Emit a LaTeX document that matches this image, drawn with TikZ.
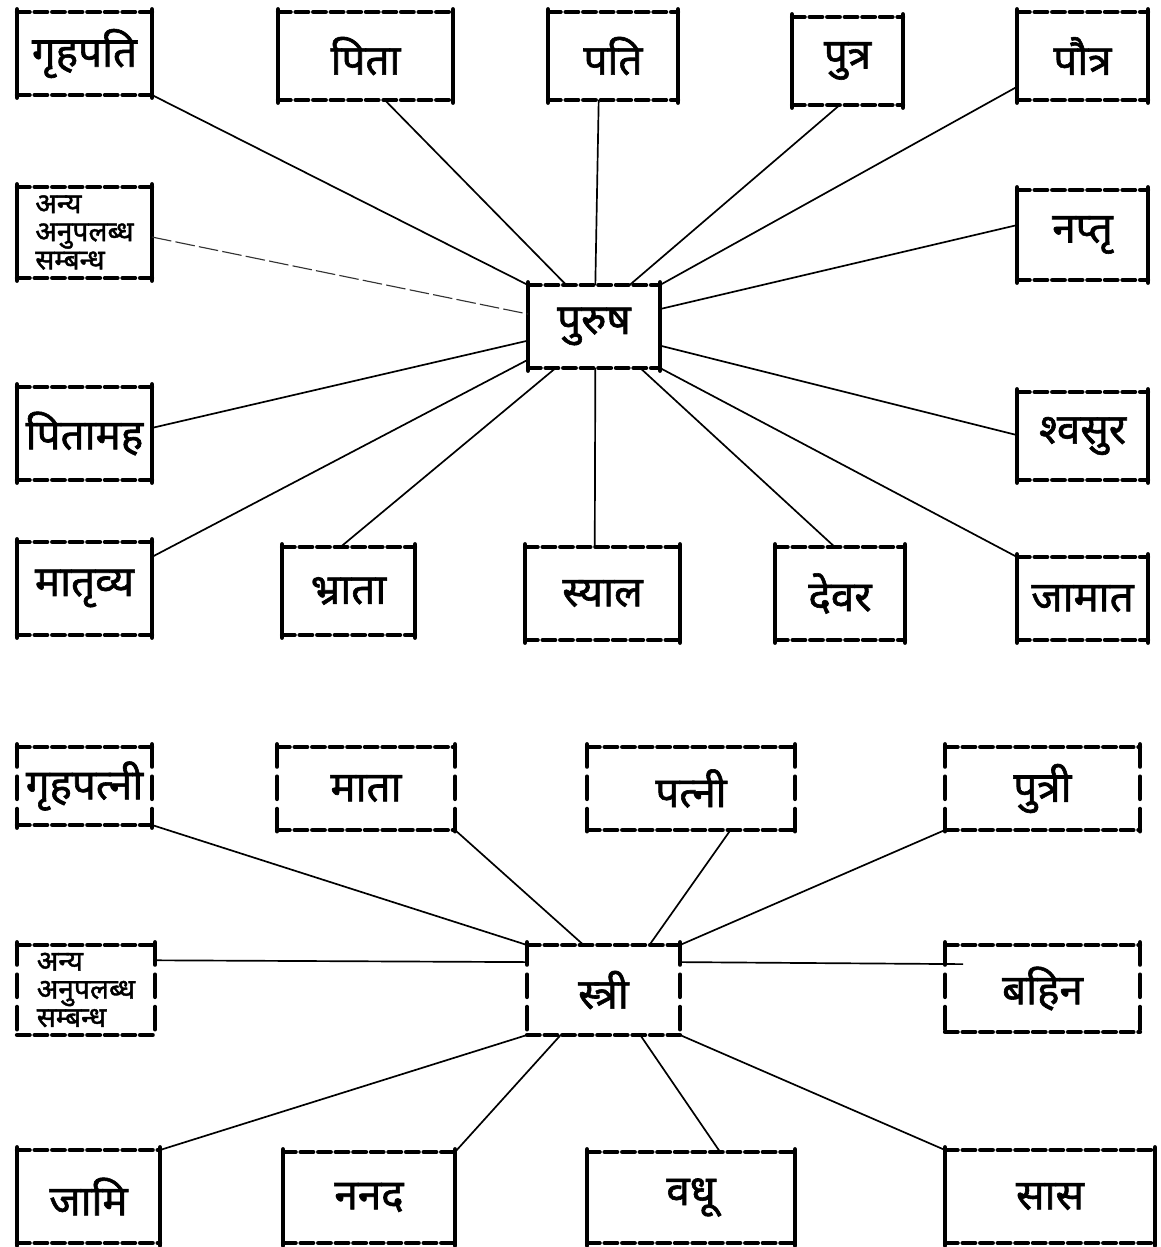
\documentclass[tikz,border=0pt]{standalone}
\usepackage{fontspec}
\newfontfamily\dev[Script=Devanagari,FakeBold=1.4]{Noto Sans}
\usetikzlibrary{calc}
\tikzset{
  kbase/.style={rectangle, inner sep=0pt, outer sep=0pt, font=\dev\fontsize{30}{32}\selectfont, text=black},
  small/.style={font=\dev\fontsize{20}{20}\selectfont, align=left},
  hedge/.style={line width=3pt, dash pattern=on 9pt off 3.5pt, line cap=round},
  vsolid/.style={line width=3pt, line cap=round},
  vdash/.style={line width=3pt, dash pattern=on 16pt off 7pt, line cap=round},
  conn/.style={line width=1.2pt, black},
  faint/.style={line width=0.8pt, dash pattern=on 14pt off 3pt, black!80},
}
\newcommand\kbox[8]{%
  \pgfmathsetmacro\kw{(#5-#3)*0.025}%
  \pgfmathsetmacro\kh{(#6-#4)*0.025}%
  \node[kbase, minimum width=\kw cm, minimum height=\kh cm, #7] (#1) at ({(#3+#5)/2},{(#4+#6)/2}) {#8};
  \draw[hedge] (#1.north west) -- (#1.north east);
  \draw[hedge] (#1.south west) -- (#1.south east);
  \draw[#2] ([yshift=2pt]#1.north west) -- ([yshift=-2pt]#1.south west);
  \draw[#2] ([yshift=2pt]#1.north east) -- ([yshift=-2pt]#1.south east);
}
\begin{document}
\begin{tikzpicture}[x=0.025cm, y=-0.025cm]
\useasboundingbox (0,0) rectangle (1161,1247);
% upper diagram
\kbox{gp}{vsolid}{17}{12}{152}{95}{}{गृहपति}
\kbox{pita}{vsolid}{278}{12}{453}{100}{}{पिता}
\kbox{pati}{vsolid}{548}{12}{678}{100}{}{पति}
\kbox{putra}{vsolid}{792}{17}{903}{105}{}{पुत्र}
\kbox{pautra}{vsolid}{1017}{12}{1148}{100}{}{पौत्र}
\kbox{anya1}{vsolid}{17}{187}{152}{278}{small}{अन्य\\अनुपलब्ध\\सम्बन्ध}
\kbox{naptr}{vsolid}{1017}{190}{1148}{280}{}{नप्तृ}
\kbox{purusha}{vsolid}{528}{285}{660}{368}{}{पुरुष}
\kbox{pitamaha}{vsolid}{17}{387}{152}{480}{}{पितामह}
\kbox{shvasura}{vsolid}{1017}{392}{1148}{480}{}{श्वसुर}
\kbox{matrvya}{vsolid}{17}{542}{152}{635}{}{मातृव्य}
\kbox{bhrata}{vsolid}{282}{547}{415}{635}{}{भ्राता}
\kbox{syala}{vsolid}{525}{547}{680}{640}{}{स्याल}
\kbox{devara}{vsolid}{775}{547}{905}{640}{}{देवर}
\kbox{jamata}{vsolid}{1017}{557}{1148}{640}{}{जामात}
\draw[conn] (gp.south east) -- (purusha.north west);
\draw[conn] ($(pita.south west)!0.61!(pita.south east)$) -- ($(purusha.north west)!0.29!(purusha.north east)$);
\draw[conn] ($(pati.south west)!0.39!(pati.south east)$) -- ($(purusha.north west)!0.51!(purusha.north east)$);
\draw[conn] ($(putra.south west)!0.43!(putra.south east)$) -- ($(purusha.north west)!0.77!(purusha.north east)$);
\draw[conn] ($(pautra.north west)!0.85!(pautra.south west)$) -- (purusha.north east);
\draw[faint] ($(anya1.north east)!0.55!(anya1.south east)$) -- ($(purusha.north west)!0.35!(purusha.south west)$);
\draw[conn] ($(naptr.north west)!0.39!(naptr.south west)$) -- ($(purusha.north east)!0.29!(purusha.south east)$);
\draw[conn] ($(pitamaha.north east)!0.44!(pitamaha.south east)$) -- ($(purusha.north west)!0.67!(purusha.south west)$);
\draw[conn] ($(shvasura.north west)!0.49!(shvasura.south west)$) -- ($(purusha.north east)!0.73!(purusha.south east)$);
\draw[conn] ($(matrvya.north east)!0.16!(matrvya.south east)$) -- ($(purusha.north west)!0.9!(purusha.south west)$);
\draw[conn] ($(bhrata.north west)!0.44!(bhrata.north east)$) -- ($(purusha.south west)!0.21!(purusha.south east)$);
\draw[conn] ($(syala.north west)!0.45!(syala.north east)$) -- ($(purusha.south west)!0.51!(purusha.south east)$);
\draw[conn] ($(devara.north west)!0.46!(devara.north east)$) -- ($(purusha.south west)!0.85!(purusha.south east)$);
\draw[conn] (jamata.north west) -- (purusha.south east);
% lower diagram
\kbox{gpatni}{vdash}{17}{747}{152}{825}{}{गृहपत्नी}
\kbox{mata}{vdash}{277}{747}{455}{830}{}{माता}
\kbox{patni}{vdash}{587}{747}{795}{830}{}{पत्नी}
\kbox{putri}{vdash}{945}{747}{1140}{830}{}{पुत्री}
\kbox{anya2}{vdash}{17}{945}{155}{1035}{small}{अन्य\\अनुपलब्ध\\सम्बन्ध}
\kbox{stri}{vdash}{527}{945}{680}{1035}{}{स्त्री}
\kbox{bahin}{vdash}{945}{945}{1140}{1032}{}{बहिन}
\kbox{jami}{vsolid}{17}{1150}{160}{1243}{}{जामि}
\kbox{nanad}{vsolid}{283}{1152}{455}{1243}{}{ननद}
\kbox{vadhu}{vsolid}{587}{1152}{795}{1243}{}{वधू}
\kbox{sas}{vsolid}{945}{1150}{1155}{1243}{}{सास}
\draw[conn] (gpatni.south east) -- (stri.north west);
\draw[conn] (mata.south east) -- ($(stri.north west)!0.37!(stri.north east)$);
\draw[conn] ($(patni.south west)!0.69!(patni.south east)$) -- ($(stri.north west)!0.8!(stri.north east)$);
\draw[conn] (putri.south west) -- (stri.north east);
\draw[conn] ($(anya2.north east)!0.17!(anya2.south east)$) -- ($(stri.north west)!0.19!(stri.south west)$);
\draw[conn] ($(stri.north east)!0.19!(stri.south east)$) -- ($(bahin.north west)!0.22!(bahin.south west)+(18,0)$);
\draw[conn] (jami.north east) -- (stri.south west);
\draw[conn] (nanad.north east) -- ($(stri.south west)!0.22!(stri.south east)$);
\draw[conn] ($(vadhu.north west)!0.64!(vadhu.north east)$) -- ($(stri.south west)!0.74!(stri.south east)$);
\draw[conn] (sas.north west) -- (stri.south east);
\end{tikzpicture}
\end{document}
